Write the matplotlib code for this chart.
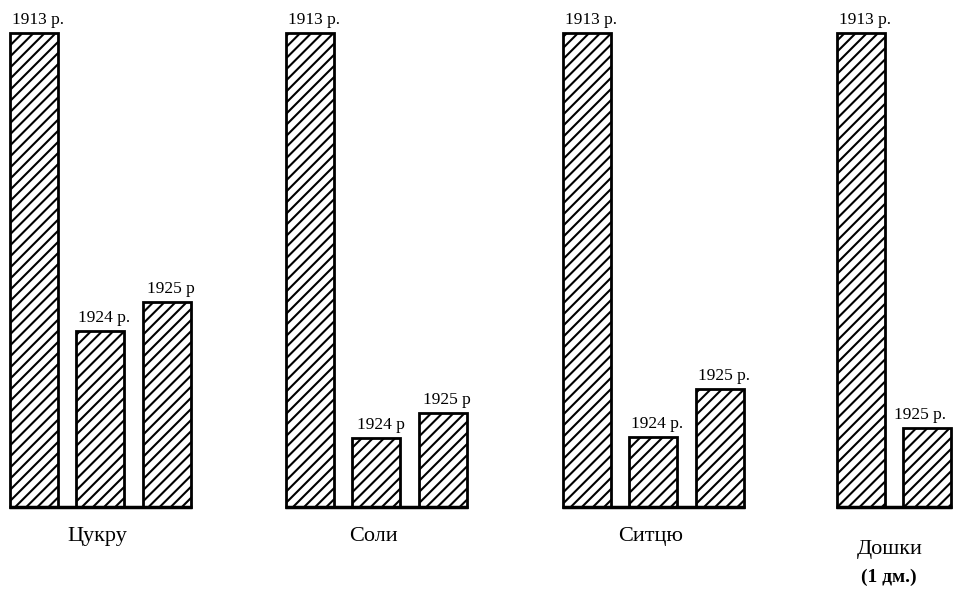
import matplotlib.pyplot as plt

# values relative to 1913 (=100)
groups = ['Цукру', 'Соли', 'Ситцю', 'Дошки\n(1 дм.)']
years = [
    ['1913 р.', '1924 р.', '1925 р'],
    ['1913 р.', '1924 р', '1925 р'],
    ['1913 р.', '1924 р.', '1925 р.'],
    ['1913 р.', '1925 р.'],
]
values = [
    [100, 37.1, 43.2],
    [100, 14.6, 19.8],
    [100, 14.8, 24.9],
    [100, 16.7],
]

plt.rcParams['hatch.linewidth'] = 1.5
plt.rcParams['font.family'] = ['Liberation Serif', 'DejaVu Serif']

fig = plt.figure(figsize=(9.54, 5.89), dpi=100)
ax = fig.add_axes([0, 0, 1, 1])
ax.set_xlim(0, 954)
ax.set_ylim(-17.3, 106.96)
ax.axis('off')

group_start = [10, 286, 563, 837]
pitch = 66.5
width = 48

for g, name in enumerate(groups):
    x0 = group_start[g]
    xs = [x0 + i * pitch for i in range(len(values[g]))]
    ax.bar(xs, values[g], width=width, align='edge', color='white',
           edgecolor='black', linewidth=2.0, hatch='///')
    for x, v, lab in zip(xs, values[g], years[g]):
        # keep the label inside the picture
        lx = min(x + width / 2 + 4, 954 - 34)
        ax.text(lx, v + 1.9, lab, ha='center', va='baseline', fontsize=12.5)
    # base line under the group
    ax.plot([x0 - 1, xs[-1] + width + 1], [0, 0], color='black', lw=2.5,
            solid_capstyle='butt')
    cx = (x0 + xs[-1] + width) / 2
    if '\n' in name:
        first, second = name.split('\n')
        ax.text(cx - 5, -9.0, first, ha='center', va='center', fontsize=16)
        ax.text(cx - 5, -14.9, second, ha='center', va='center', fontsize=14,
                fontweight='bold')
    else:
        ax.text(cx - 3, -6.3, name, ha='center', va='center', fontsize=16)

fig.savefig('out.png', dpi=100)
